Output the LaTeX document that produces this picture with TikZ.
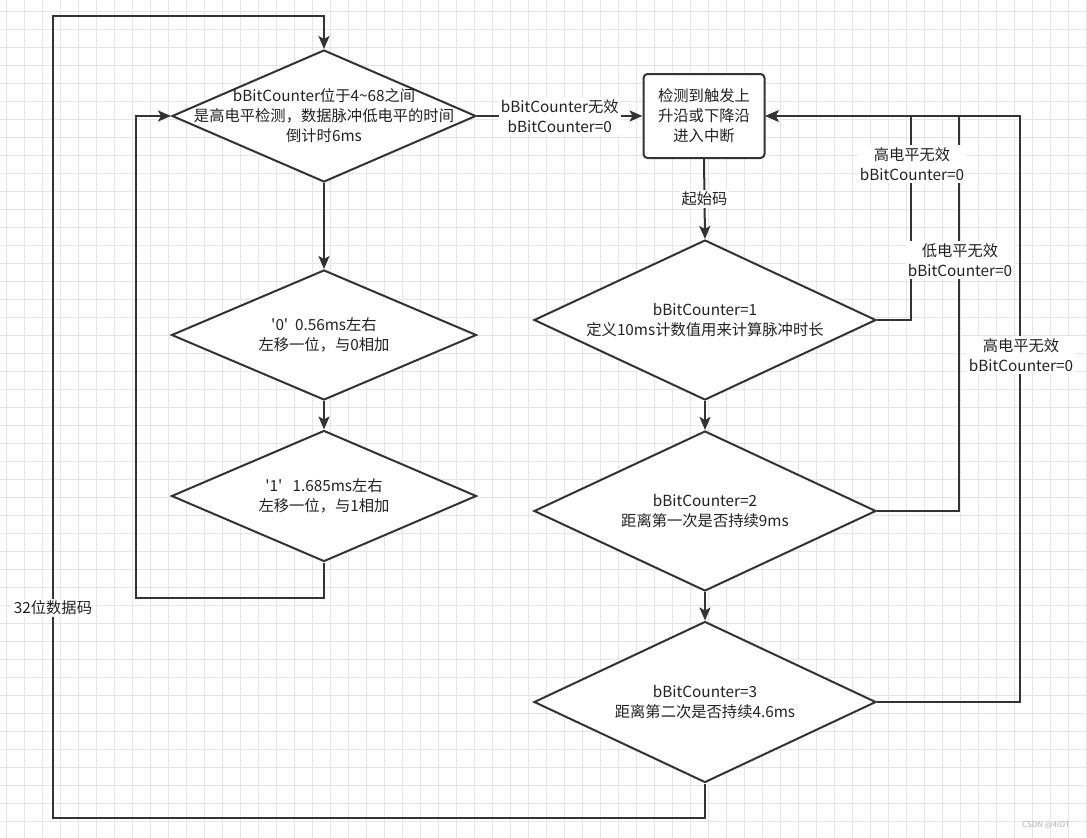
\documentclass[tikz,border=0pt]{standalone}
\usepackage{fontspec}
\setmainfont{Noto Sans CJK SC}[Ligatures=TeXOff]
\usetikzlibrary{shapes.geometric,arrows.meta}
\definecolor{ln}{HTML}{333333}
\definecolor{tx}{HTML}{222222}
\definecolor{gridc}{HTML}{E6E6E6}
\tikzset{
  dia/.style={diamond, draw=ln, line width=2pt, fill=white, inner sep=0pt},
  box/.style={rectangle, rounded corners=4pt, draw=ln, line width=2pt, fill=white, minimum width=121pt, minimum height=84pt, inner sep=0pt},
  txt/.style={align=center, text=tx, font=\fontsize{15.3}{20}\selectfont, inner sep=0pt},
  lbl/.style={align=center, text=tx, font=\fontsize{15.3}{20}\selectfont, fill=white, inner sep=2pt},
  arr/.style={draw=ln, line width=2pt, -{Stealth[length=13pt,width=11pt,inset=3pt]}},
  wire/.style={draw=ln, line width=2pt}
}
\begin{document}
\begin{tikzpicture}[x=1pt,y=-1pt]
\fill[white] (0,0) rectangle (1087,838);
\useasboundingbox (0,0) rectangle (1087,838);
\foreach \i in {0,...,60} \draw[gridc, line width=1pt] ({6.5+18*\i},0) -- ({6.5+18*\i},838);
\foreach \j in {0,...,45} \draw[gridc, line width=1pt] (0,{11+18*\j}) -- (1087,{11+18*\j});

% nodes
\node[dia, minimum width=304pt, minimum height=132pt] (d0) at (324,116) {};
\node[txt] (d0t) at (d0) {bBitCounter位于4\textasciitilde68之间\\是高电平检测，数据脉冲低电平的时间\\倒计时6ms};
\node[dia, minimum width=305pt, minimum height=130pt] (d4) at (324,335) {};
\node[txt] (d4t) at (d4) {\symbol{39}0\symbol{39}\ \ 0.56ms左右\\左移一位，与0相加};
\node[dia, minimum width=305pt, minimum height=131pt] (d5) at (324,496) {};
\node[txt] (d5t) at (d5) {\symbol{39}1\symbol{39}\ \ \ 1.685ms左右\\左移一位，与1相加};

\node[box] (b) at (704,116) {};
\node[txt] (bt) at (b) {检测到触发上\\升沿或下降沿\\进入中断};

\node[dia, minimum width=342pt, minimum height=160pt] (d1) at (705,320) {};
\node[txt] (d1t) at (d1) {bBitCounter=1\\定义10ms计数值用来计算脉冲时长};
\node[dia, minimum width=342pt, minimum height=160pt] (d2) at (705,511) {};
\node[txt] (d2t) at (d2) {bBitCounter=2\\距离第一次是否持续9ms};
\node[dia, minimum width=342pt, minimum height=161pt] (d3) at (705,702) {};
\node[txt] (d3t) at (d3) {bBitCounter=3\\距离第二次是否持续4.6ms};

% coordinates
\coordinate (c1) at (136,598);
\coordinate (c2) at (53,818);
\coordinate (c3) at (53,16);
\coordinate (r1) at (911,116);
\coordinate (r2) at (959,116);
\coordinate (r3) at (1020,116);

% connectors
\draw[arr] (d0.south) -- (d4.north);
\draw[arr] (d4.south) -- (d5.north);
\draw[arr] (d5.south) |- (c1) |- (d0.west);
\draw[arr] (d3.south) |- (c2) -- node[lbl, pos=0.262] {32位数据码} (c3) -| (d0.north);
\draw[arr] (d0.east) -- node[lbl] {bBitCounter无效\\bBitCounter=0} (b.west);
\draw[arr] (b.south) -- node[lbl] {起始码} (d1.north);
\draw[arr] (d1.east) -| (r1) -- (b.east);
\draw[arr] (d2.east) -| (r2) -- (b.east);
\draw[arr] (d3.east) -| (r3) -- (b.east);
\draw[arr] (d2.south) -- (d3.north);
\draw[arr] (d1.south) -- (d2.north);

\node[lbl] (l1) at (912,164) {高电平无效\\bBitCounter=0};
\node[lbl] (l2) at (960,260) {低电平无效\\bBitCounter=0};
\node[lbl] (l3) at (1021,355) {高电平无效\\bBitCounter=0};

\node[text=gray!60, font=\fontsize{8}{9}\selectfont] (wm) at (1046,825) {CSDN @4IOT};
\end{tikzpicture}
\end{document}
